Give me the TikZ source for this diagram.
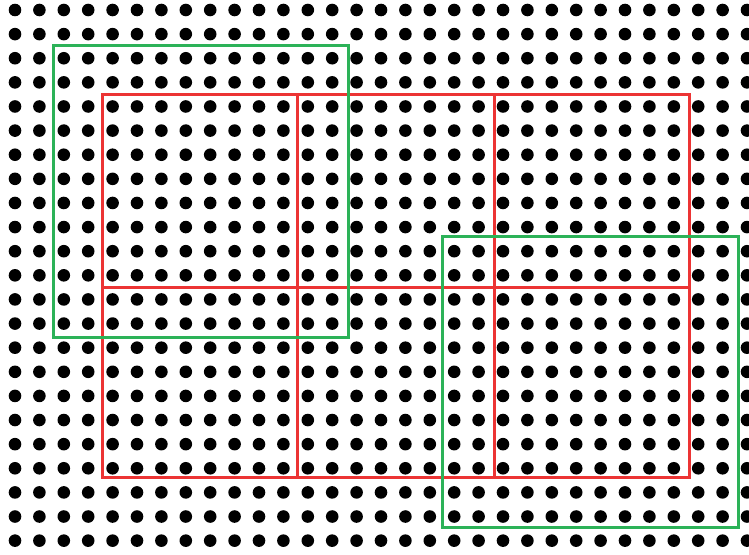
\documentclass[tikz,border=0pt]{standalone}
\definecolor{gridred}{RGB}{236,52,52}
\definecolor{gridgreen}{RGB}{44,178,88}
\begin{document}
\begin{tikzpicture}[x=1pt,y=-1pt,
  dot/.style={fill=black},
  redbox/.style={draw=gridred,line width=3pt},
  greenbox/.style={draw=gridgreen,line width=3pt}]
\useasboundingbox (0,0) rectangle (749,554);
\fill[white] (0,0) rectangle (749,554);
\foreach \i in {0,...,30}{
  \foreach \j in {0,...,22}{
    \fill[dot] ({15+24.4*\i},{10+24.12*\j}) circle (6.3);
  }
}
% red 3x2 grid
\draw[redbox] (102.5,94) rectangle (689,477);
\draw[redbox] (297.5,94) -- (297.5,477);
\draw[redbox] (494,94) -- (494,477);
\draw[redbox] (102.5,287) -- (689,287);
% green boxes
\draw[greenbox] (53,45) rectangle (348.5,337);
\draw[greenbox] (442,236) rectangle (738,527);
\end{tikzpicture}
\end{document}
